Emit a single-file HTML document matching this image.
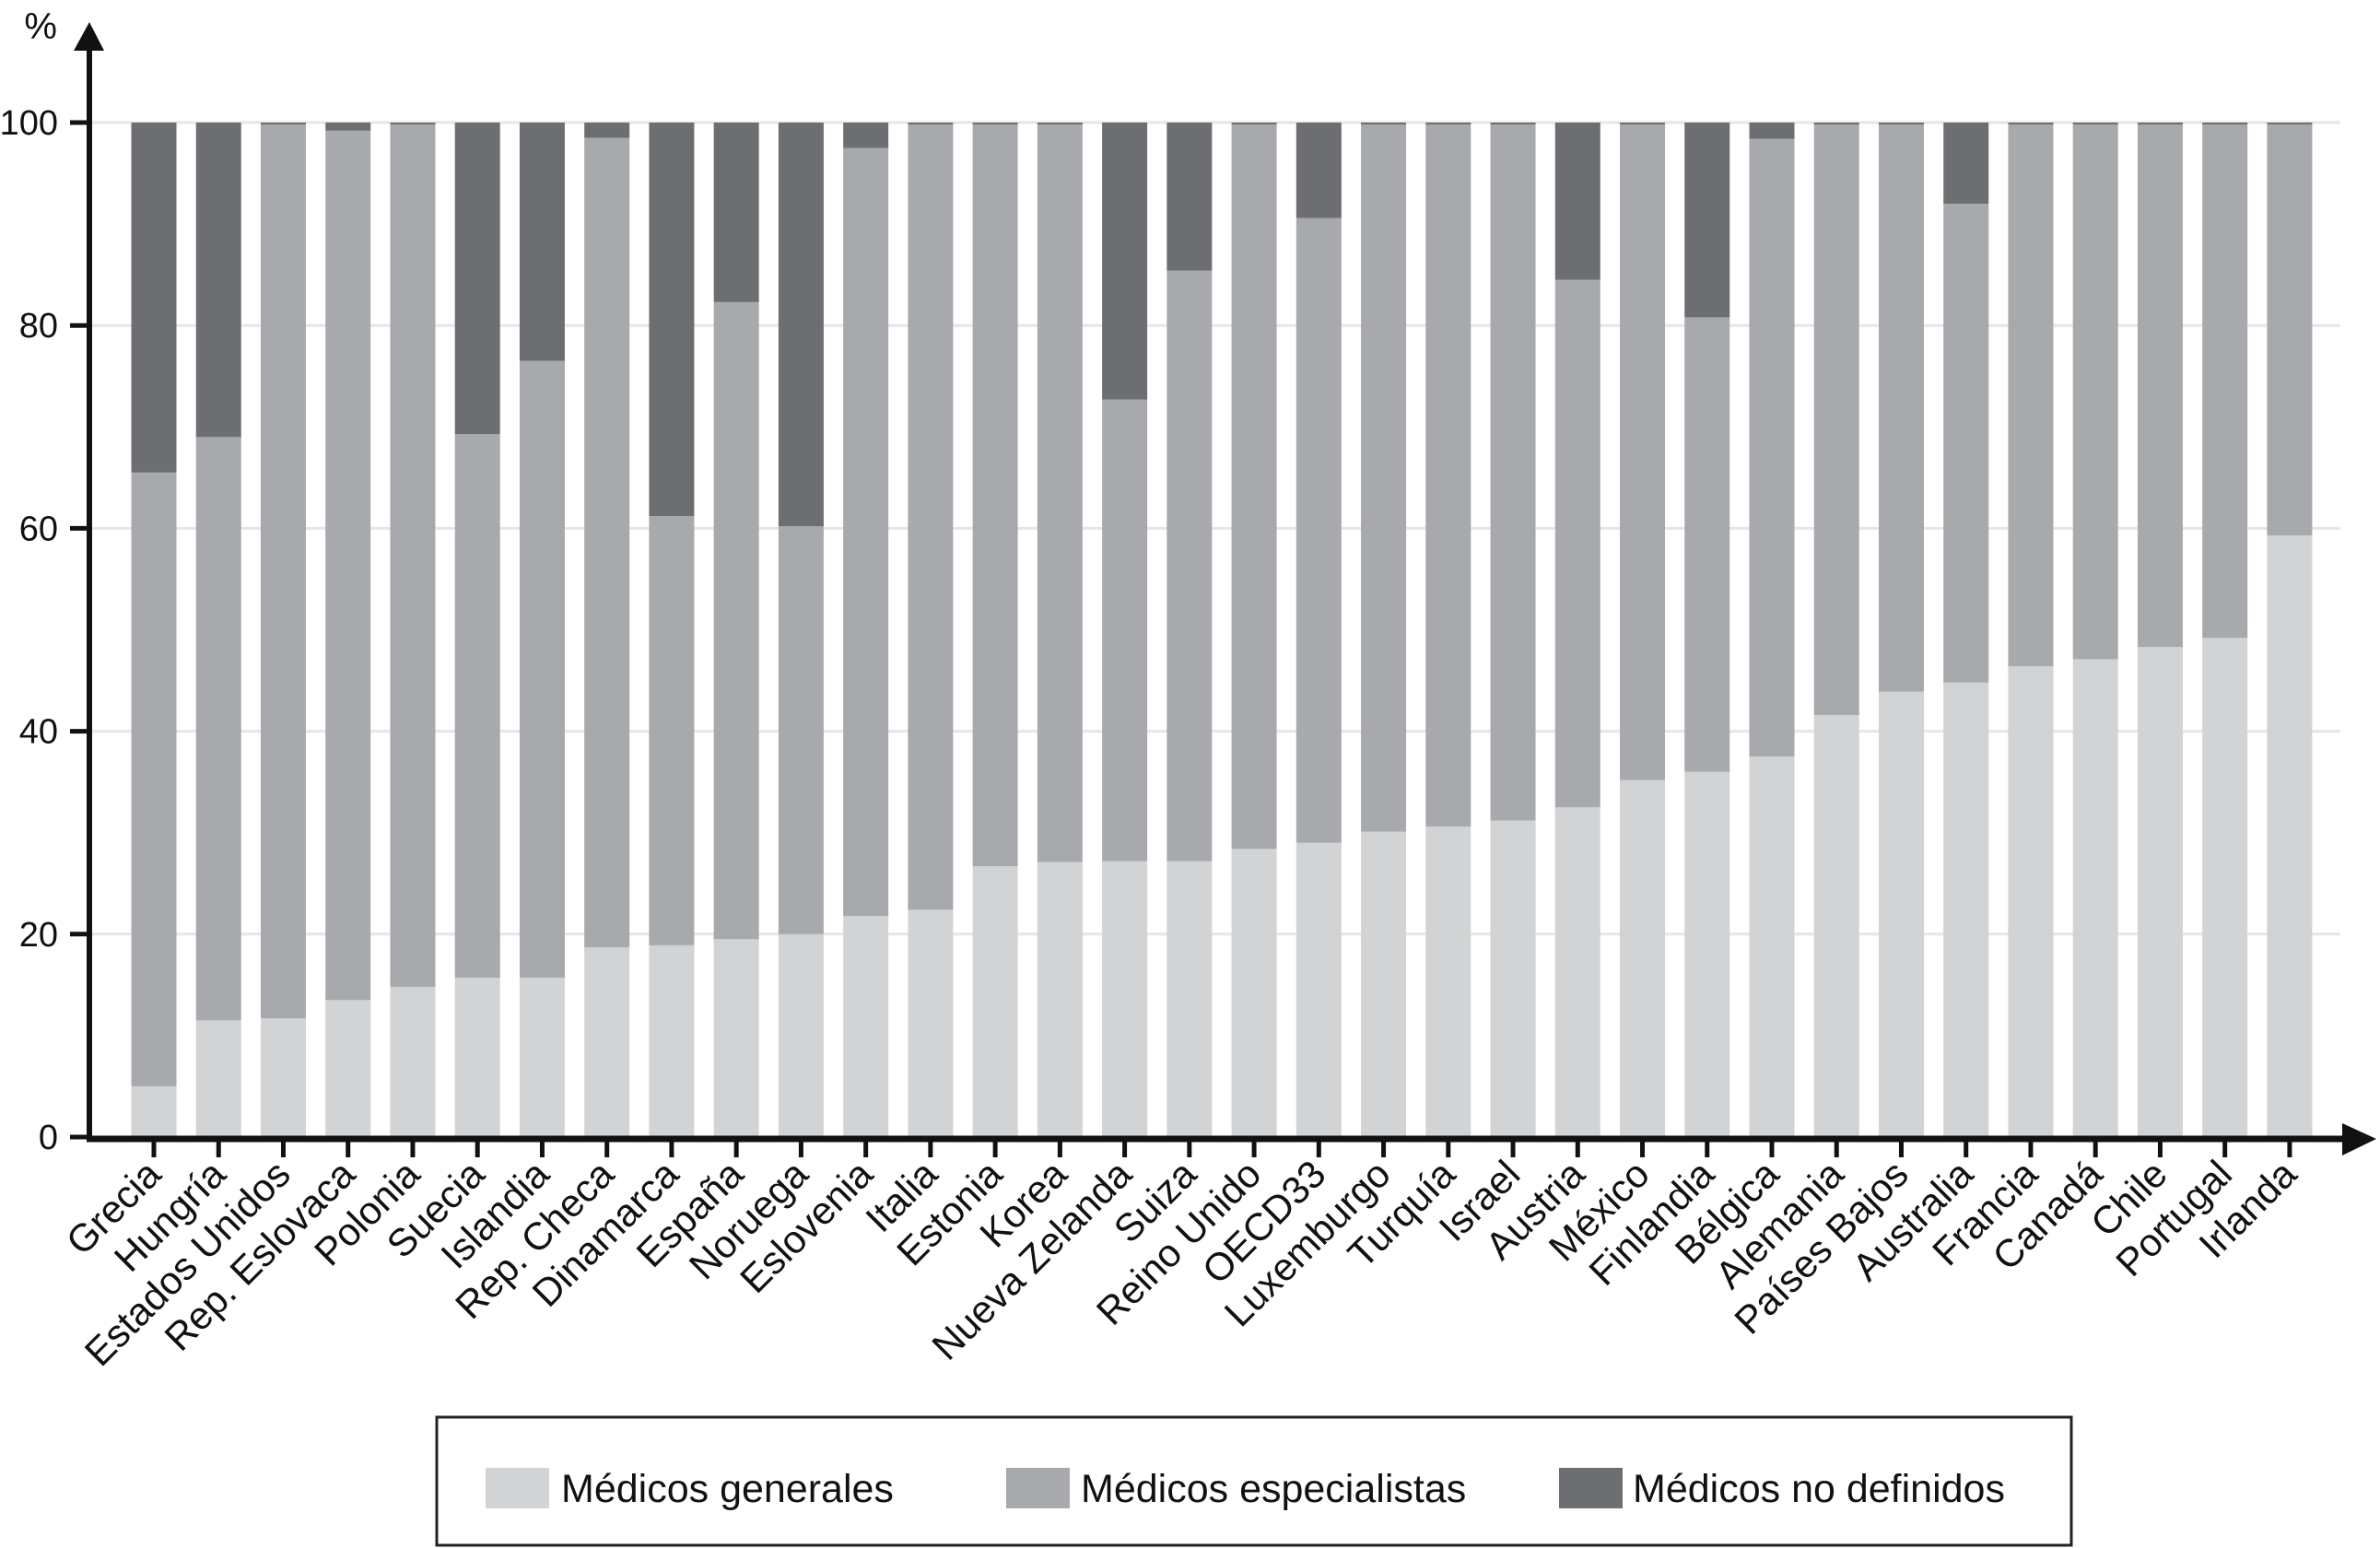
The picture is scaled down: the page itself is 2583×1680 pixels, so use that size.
<!DOCTYPE html>
<html><head><meta charset="utf-8"><style>
html,body{margin:0;padding:0;background:#fff;}
svg{display:block;font-family:"Liberation Sans",sans-serif;}
</style></head><body>
<svg id="chart" width="2583" height="1680" viewBox="0 0 2583 1680" xmlns="http://www.w3.org/2000/svg">
<g id="grid"></g>
<g id="bars"></g>
<g id="axes"></g>
<g id="xlabels"></g>
<text x="62" y="42" font-size="40" text-anchor="end" fill="#111">%</text>
<g>
<rect x="474" y="1538" width="1774" height="139" fill="#fff" stroke="#222" stroke-width="3"/>
<g><rect x="527" y="1593" width="69" height="44" fill="#d1d3d4"/><text x="609" y="1630" font-size="43" fill="#111">Médicos generales</text></g>
<g><rect x="1092" y="1593" width="69" height="44" fill="#a7a9ac"/><text x="1173" y="1630" font-size="43" fill="#111">Médicos especialistas</text></g>
<g><rect x="1692" y="1593" width="69" height="44" fill="#6d6e71"/><text x="1772" y="1630" font-size="43" fill="#111">Médicos no definidos</text></g>
</g>
</svg>
<script>
const categories = ["Grecia","Hungría","Estados Unidos","Rep. Eslovaca","Polonia","Suecia","Islandia","Rep. Checa","Dinamarca","España","Noruega","Eslovenia","Italia","Estonia","Korea","Nueva Zelanda","Suiza","Reino Unido","OECD33","Luxemburgo","Turquía","Israel","Austria","México","Finlandia","Bélgica","Alemania","Países Bajos","Australia","Francia","Canadá","Chile","Portugal","Irlanda"];
const generales = [5,11.5,11.7,13.5,14.8,15.7,15.7,18.7,18.9,19.5,20,21.8,22.4,26.7,27.1,27.2,27.2,28.4,29,30.1,30.6,31.2,32.5,35.2,36,37.5,41.6,43.9,44.8,46.4,47.1,48.3,49.2,59.3];
const especialistas = [60.5,57.5,88.1,85.7,85,53.6,60.8,79.8,42.3,62.8,40.2,75.7,77.4,73.1,72.7,45.5,58.2,71.4,61.6,69.7,69.2,68.6,52,64.6,44.8,60.9,58.2,55.9,47.2,53.4,52.7,51.5,50.6,40.5];
const noDefinidos = [34.5,31,0.2,0.8,0.2,30.7,23.5,1.5,38.8,17.7,39.8,2.5,0.2,0.2,0.2,27.3,14.6,0.2,9.4,0.2,0.2,0.2,15.5,0.2,19.2,1.6,0.2,0.2,8,0.2,0.2,0.2,0.2,0.2];
const yTicks = [0,20,40,60,80,100];

const NS = "http://www.w3.org/2000/svg";
const X0 = 167, STEP = 70.24, BW = 49;
const Y0 = 1234, Y100 = 133;
function xScale(i){ return X0 + i*STEP; }
function yScale(v){ return Y0 - v*(Y0-Y100)/100; }
function mk(tag, attrs, parent){ const e=document.createElementNS(NS,tag); for(const k in attrs) e.setAttribute(k,attrs[k]); parent.appendChild(e); return e; }

const grid=document.getElementById('grid'), bars=document.getElementById('bars'), axes=document.getElementById('axes'), xl=document.getElementById('xlabels');

yTicks.forEach(t=>{
  if(t>0){
    const g = mk('line',{x1:100,x2:2540,y1:yScale(t),y2:yScale(t),stroke:'#e6e6e6','stroke-width':3},grid);
    
    
  }
  const tk = mk('line',{x1:76,x2:97,y1:yScale(t),y2:yScale(t),stroke:'#111','stroke-width':5},axes);
  
  
  const lb = mk('text',{x:63,y:yScale(t)+13,'font-size':38,'text-anchor':'end',fill:'#111'},axes);
  lb.textContent=t;
  
  
});

categories.forEach((c,i)=>{
  const cx=xScale(i), x=cx-BW/2;
  const g1=generales[i], g2=especialistas[i], g3=noDefinidos[i];
  const r1=mk('rect',{x:x,width:BW,y:yScale(g1),height:yScale(0)-yScale(g1),fill:'#d1d3d4'},bars);
  
  
  const r2=mk('rect',{x:x,width:BW,y:yScale(g1+g2),height:yScale(g1)-yScale(g1+g2),fill:'#a7a9ac'},bars);
  
  
  const r3=mk('rect',{x:x,width:BW,y:yScale(g1+g2+g3),height:yScale(g1+g2)-yScale(g1+g2+g3),fill:'#6d6e71'},bars);
  
  
  const tk=mk('line',{x1:cx,x2:cx,y1:1236,y2:1256,stroke:'#111','stroke-width':5},axes);
  
  
  const lb=mk('text',{x:0,y:0,'font-size':42,'text-anchor':'end',fill:'#111',transform:`translate(${cx+10},${1277}) rotate(-45)`},xl);
  lb.textContent=c;
  
  
});

const ya=mk('line',{x1:97,x2:97,y1:50,y2:1238,stroke:'#111','stroke-width':6},axes);


const yar=mk('polygon',{points:'80,55 113,55 97,24',fill:'#111'},axes);


const xa=mk('line',{x1:94,x2:2550,y1:1236,y2:1236,stroke:'#111','stroke-width':7},axes);


const xar=mk('polygon',{points:'2542,1219 2542,1254 2579,1236',fill:'#111'},axes);


</script>
</body></html>
